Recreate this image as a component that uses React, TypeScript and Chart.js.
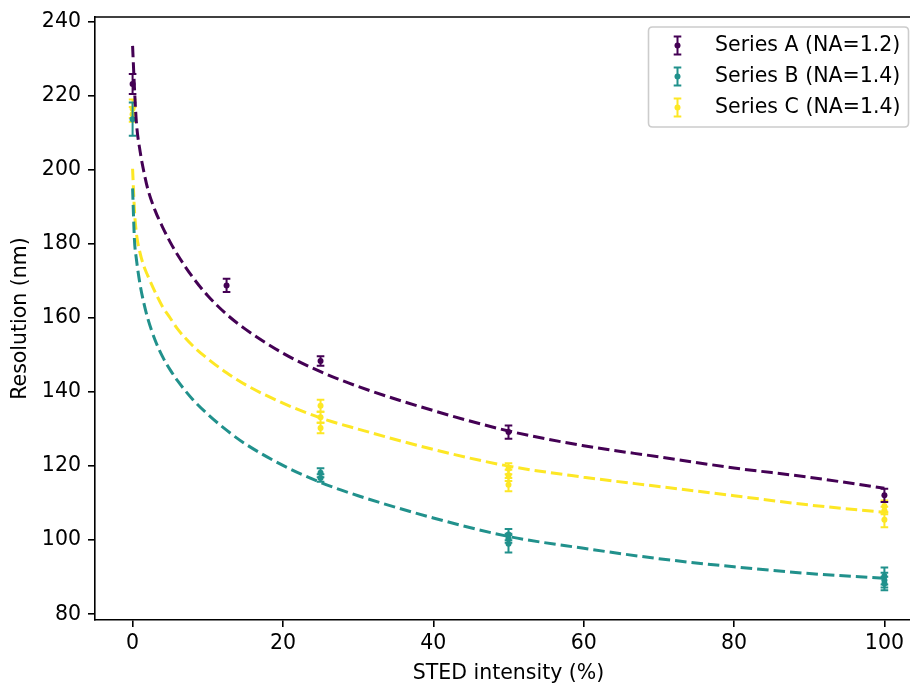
import React, { useEffect, useRef } from "react";
import { Chart, registerables } from "chart.js";

Chart.register(...registerables);

const FONT = "DejaVu Sans";
const FONT_SIZE = 20.5;

const seriesNames = ["Series A (NA=1.2)", "Series B (NA=1.4)", "Series C (NA=1.4)"];
const seriesColors = ["#440154", "#21918c", "#fde725"];

// Measured points (x = STED intensity %, y = resolution nm, err = half error bar)
const aX = [0, 12.5, 25, 50, 100];
const aY = [223.2, 168.8, 148.4, 129.2, 112.1];
const aErr = [2.7, 1.8, 1.3, 1.8, 1.8];

const bX = [0, 25, 25, 50, 50, 50, 100, 100, 100];
const bY = [213.7, 118.2, 116.8, 101.5, 100.5, 99.0, 90.3, 89.2, 88.3];
const bErr = [4.5, 1.2, 1.0, 1.5, 1.2, 2.3, 2.3, 2.0, 1.8];

const cX = [0, 0, 25, 25, 25, 50, 50, 50, 100, 100, 100];
const cY = [216.5, 215.0, 136.3, 133.2, 130.3, 119.3, 117.5, 115.0, 109.2, 108.0, 105.5];
const cErr = [2.5, 2.0, 1.6, 1.5, 1.4, 1.5, 1.5, 1.8, 1.5, 1.0, 2.0];

// Fitted curves
const fitX = [0, 0.25, 0.5, 1, 1.5, 2, 3, 4, 5, 6, 8, 10, 12.5, 15, 20, 25, 30, 40, 50, 60, 70, 80, 90, 100];
const fitA = [233.5, 222, 213, 205, 199.5, 195, 189, 184.5, 180.5, 177, 171, 166, 161, 157, 150.5, 145.5, 141.5, 135, 129.5, 125.5, 122.5, 119.5, 117, 114];
const fitB = [195, 181, 176, 169, 164, 160, 154, 149.5, 146, 143, 138, 134, 129.7, 126, 120.2, 115.6, 112, 106, 101, 97.8, 95, 92.8, 91, 89.7];
const fitC = [200.3, 189, 183, 177.5, 174, 171.5, 167, 163, 160, 157, 152.5, 149, 145.2, 142, 137, 133, 130, 124.5, 120, 117, 114.5, 112, 109.5, 107.5];

const xTicks = [0, 20, 40, 60, 80, 100];
const yTicks = [80, 100, 120, 140, 160, 180, 200, 220, 240];

const xTitle = "STED intensity (%)";
const yTitle = "Resolution (nm)";

const toPts = (xs: number[], ys: number[]) => xs.map((x, i) => ({ x, y: ys[i] }));

const errorBarPlugin = {
  id: "errorBars",
  beforeDatasetDraw(chart: any, args: any) {
    const ds = chart.data.datasets[args.index];
    if (!ds.errors) return;
    const xs = chart.scales.x;
    const ys = chart.scales.y;
    const ctx = chart.ctx;
    const area = chart.chartArea;
    ctx.save();
    ctx.beginPath();
    ctx.rect(area.left, area.top, area.right - area.left, area.bottom - area.top);
    ctx.clip();
    ctx.strokeStyle = ds.backgroundColor;
    ctx.lineWidth = 2;
    ctx.lineCap = "butt";
    ds.data.forEach((p: any, i: number) => {
      const e = ds.errors[i];
      const px = xs.getPixelForValue(p.x);
      const t = ys.getPixelForValue(p.y + e);
      const b = ys.getPixelForValue(p.y - e);
      ctx.beginPath();
      ctx.moveTo(px, t);
      ctx.lineTo(px, b);
      ctx.moveTo(px - 3.8, t);
      ctx.lineTo(px + 3.8, t);
      ctx.moveTo(px - 3.8, b);
      ctx.lineTo(px + 3.8, b);
      ctx.stroke();
    });
    ctx.restore();
  },
};

const framePlugin = {
  id: "frameAndLegend",
  afterDraw(chart: any) {
    const ctx = chart.ctx;
    const area = chart.chartArea;
    ctx.save();
    // top spine
    ctx.strokeStyle = "#000";
    ctx.lineWidth = 1.6;
    ctx.beginPath();
    ctx.moveTo(area.left - 0.8, area.top);
    ctx.lineTo(area.right, area.top);
    ctx.stroke();

    // legend
    const bx = 648.5, by = 27, bw = 260, bh = 100, r = 4;
    ctx.beginPath();
    ctx.moveTo(bx + r, by);
    ctx.lineTo(bx + bw - r, by);
    ctx.quadraticCurveTo(bx + bw, by, bx + bw, by + r);
    ctx.lineTo(bx + bw, by + bh - r);
    ctx.quadraticCurveTo(bx + bw, by + bh, bx + bw - r, by + bh);
    ctx.lineTo(bx + r, by + bh);
    ctx.quadraticCurveTo(bx, by + bh, bx, by + bh - r);
    ctx.lineTo(bx, by + r);
    ctx.quadraticCurveTo(bx, by, bx + r, by);
    ctx.closePath();
    ctx.fillStyle = "rgba(255,255,255,0.8)";
    ctx.fill();
    ctx.strokeStyle = "#cccccc";
    ctx.lineWidth = 1.6;
    ctx.stroke();

    seriesNames.forEach((name, i) => {
      const cy = 45.5 + i * 31;
      const ix = 677.5;
      ctx.strokeStyle = seriesColors[i];
      ctx.lineWidth = 2;
      ctx.beginPath();
      ctx.moveTo(ix, cy - 9);
      ctx.lineTo(ix, cy + 9);
      ctx.moveTo(ix - 3.8, cy - 9);
      ctx.lineTo(ix + 3.8, cy - 9);
      ctx.moveTo(ix - 3.8, cy + 9);
      ctx.lineTo(ix + 3.8, cy + 9);
      ctx.stroke();
      ctx.fillStyle = seriesColors[i];
      ctx.beginPath();
      ctx.arc(ix, cy, 3, 0, Math.PI * 2);
      ctx.fill();
      ctx.fillStyle = "#000";
      ctx.font = `${FONT_SIZE}px "${FONT}"`;
      ctx.textAlign = "left";
      ctx.textBaseline = "middle";
      ctx.fillText(name, 715, cy);
    });
    ctx.restore();
  },
};

export default function App() {
  const ref = useRef<HTMLCanvasElement | null>(null);

  useEffect(() => {
    if (!ref.current) return;
    const fitStyle = (color: string) => ({
      type: "line" as const,
      borderColor: color,
      backgroundColor: color,
      borderWidth: 3,
      borderDash: [11.5, 5],
      borderCapStyle: "butt" as const,
      pointRadius: 0,
      fill: false,
      cubicInterpolationMode: "monotone" as const,
    });
    const ptStyle = (color: string) => ({
      type: "scatter" as const,
      backgroundColor: color,
      borderColor: color,
      borderWidth: 0,
      pointRadius: 3,
      showLine: false,
    });
    const chart = new Chart(ref.current, {
      type: "scatter",
      data: {
        datasets: [
          { ...fitStyle(seriesColors[0]), label: "fitA", data: toPts(fitX, fitA) },
          { ...ptStyle(seriesColors[0]), label: seriesNames[0], data: toPts(aX, aY), errors: aErr } as any,
          { ...fitStyle(seriesColors[1]), label: "fitB", data: toPts(fitX, fitB) },
          { ...ptStyle(seriesColors[1]), label: seriesNames[1], data: toPts(bX, bY), errors: bErr } as any,
          { ...fitStyle(seriesColors[2]), label: "fitC", data: toPts(fitX, fitC) },
          { ...ptStyle(seriesColors[2]), label: seriesNames[2], data: toPts(cX, cY), errors: cErr } as any,
        ],
      },
      options: {
        animation: false,
        responsive: false,
        devicePixelRatio: 1,
        layout: { padding: { left: 0, right: 0, top: 17, bottom: 0 } },
        plugins: { legend: { display: false }, tooltip: { enabled: false } },
        scales: {
          x: {
            type: "linear",
            min: -5,
            max: 105,
            afterBuildTicks: (s: any) => {
              s.ticks = xTicks.map((v) => ({ value: v }));
            },
            afterFit: (s: any) => {
              s.height = 66;
              s.paddingLeft = 0;
              s.paddingRight = 0;
            },
            grid: { drawOnChartArea: false, drawTicks: true, tickLength: 7, color: "#000", lineWidth: 1.6 },
            border: { display: true, color: "#000", width: 1.6 },
            ticks: { color: "#000", font: { family: FONT, size: FONT_SIZE }, padding: 4, maxRotation: 0, autoSkip: false },
            title: { display: true, text: xTitle, color: "#000", font: { family: FONT, size: FONT_SIZE }, padding: { top: 0, bottom: 0 } },
          },
          y: {
            type: "linear",
            min: 78.44,
            max: 241.29,
            afterBuildTicks: (s: any) => {
              s.ticks = yTicks.map((v) => ({ value: v }));
            },
            afterFit: (s: any) => {
              s.width = 95;
              s.paddingTop = 0;
              s.paddingBottom = 0;
            },
            grid: { drawOnChartArea: false, drawTicks: true, tickLength: 7, color: "#000", lineWidth: 1.6 },
            border: { display: true, color: "#000", width: 1.6 },
            ticks: { color: "#000", font: { family: FONT, size: FONT_SIZE }, padding: 7, autoSkip: false },
            title: { display: true, text: yTitle, color: "#000", font: { family: FONT, size: FONT_SIZE }, padding: { top: 8.5, bottom: 0 } },
          },
        },
      },
      plugins: [errorBarPlugin, framePlugin],
    } as any);
    return () => chart.destroy();
  }, []);

  return (
    <div style={{ position: "fixed", left: 0, top: 0, width: 910, height: 686, overflow: "hidden", background: "#fff" }}>
      <canvas ref={ref} width={926} height={686} style={{ display: "block", width: 926, height: 686 }} />
    </div>
  );
}
